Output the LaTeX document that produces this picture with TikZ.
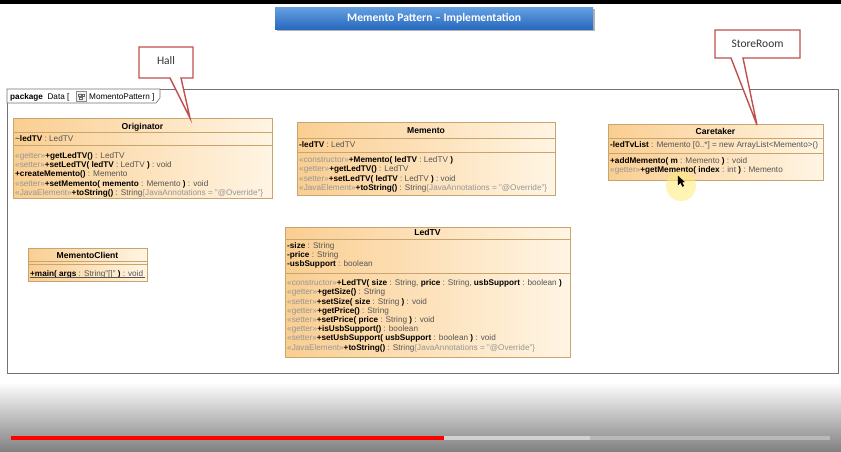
\documentclass[tikz,border=0pt]{standalone}
\usepackage{fontspec}
\setmainfont{Liberation Sans}
\newfontfamily\calib{Carlito}
\definecolor{bordc}{RGB}{200,165,110}
\definecolor{orL}{RGB}{250,206,145}
\definecolor{orR}{RGB}{255,245,228}
\definecolor{stc}{RGB}{150,150,150}
\definecolor{txc}{RGB}{85,85,85}
\definecolor{callc}{RGB}{192,80,77}
\definecolor{titL}{RGB}{100,160,225}
\definecolor{titD}{RGB}{40,105,190}
\definecolor{hil}{RGB}{255,235,120}
\newcommand\ster[1]{\textcolor{stc}{«#1»}}
\newcommand\nm[1]{\textcolor{black}{\textbf{#1}}}
\newcommand\fs{\fontsize{8.2}{9}\selectfont}
\tikzset{
  classbox/.style={draw=bordc, line width=0.6pt, left color=orL, right color=orR, anchor=north west, inner sep=0pt},
  ln/.style={anchor=base west, inner sep=0pt, font=\fs, text=txc},
  hd/.style={anchor=base, inner sep=0pt, font=\fontsize{8.6}{10}\selectfont\bfseries, text=black},
  sep/.style={draw=bordc, line width=0.5pt},
  callout/.style={draw=callc, line width=1.4pt, fill=white, line join=miter},
}
\begin{document}
\begin{tikzpicture}[x=1pt,y=-1pt]
\useasboundingbox (0,0) rectangle (841,452);
\fill[white] (0,0) rectangle (841,452);
% top black strip
\fill[black] (0,0) rectangle (841,4);
% bottom player gradient
\shade[top color=white, bottom color=black!50] (0,382) rectangle (841,452);
\fill[red] (11,436) rectangle (444,440);
\fill[black!18] (444,436) rectangle (590,440);
\fill[black!28] (590,436) rectangle (830,440);

% title
\fill[black!30] (277,9) rectangle (595,31);
\node[top color=titL, bottom color=titD, minimum width=318pt, minimum height=22pt, anchor=north west, inner sep=0pt, text=white, font=\calib\fontsize{11.6}{13}\selectfont\bfseries] (title) at (275,7) {Memento Pattern – Implementation};

% package frame
\draw[black!55, line width=0.6pt] (7,89) rectangle (838,373);
\draw[black!55, line width=0.6pt, fill=white] (7,89) -- (160,89) -- (160,98) -- (156,103) -- (7,103) -- cycle;
\node[anchor=base west, inner sep=0pt, font=\fontsize{8.2}{9}\selectfont] (pkg) at (10,99.5) {\textbf{package}\ \ Data [};
\node[draw=black!45, fill=black!6, minimum width=10pt, minimum height=10pt, inner sep=0pt, anchor=west] (icon) at (76,96.5) {};
\draw[black!60, line width=0.5pt] (78.5,94) rectangle (81.5,96) (79.5,97.5) rectangle (82.5,99.5) (82.5,94.5) rectangle (84,96.5);
\node[anchor=base west, inner sep=0pt, font=\fontsize{8.2}{9}\selectfont] (pkgname) at (89,99.5) {MomentoPattern ]};

% Originator
\node[classbox, minimum width=259pt, minimum height=80pt] (orig) at (13,118) {};
\draw[sep] (13,132) -- (272,132) (13,145) -- (272,145);
\node[hd] (origh) at (142.5,129) {Originator};
\node[ln] (o1) at (15,141.5) {\textcolor{black}{\textasciitilde}\nm{ledTV} : LedTV};
\node[ln] (o2) at (15,158.5) {\ster{getter}\nm{+getLedTV()} : LedTV};
\node[ln] (o3) at (15,167.7) {\ster{setter}\nm{+setLedTV( ledTV} : LedTV \nm{)} : void};
\node[ln] (o4) at (15,176.9) {\nm{+createMemento()} : Memento};
\node[ln] (o5) at (15,186.1) {\ster{setter}\nm{+setMemento( memento} : Memento \nm{)} : void};
\node[ln] (o6) at (15,195.3) {\ster{JavaElement}\nm{+toString()} : String\textcolor{stc}{\{JavaAnnotations = "@Override"\}}};

% Memento
\node[classbox, minimum width=258pt, minimum height=73pt] (mem) at (297,122) {};
\draw[sep] (297,138) -- (555,138) (297,152) -- (555,152);
\node[hd] (memh) at (426,133) {Memento};
\node[ln] (m1) at (299,147.5) {\nm{-ledTV} : LedTV};
\node[ln] (m2) at (299,162.7) {\ster{constructor}\nm{+Memento( ledTV} : LedTV \nm{)}};
\node[ln] (m3) at (299,171.9) {\ster{getter}\nm{+getLedTV()} : LedTV};
\node[ln] (m4) at (299,181.1) {\ster{setter}\nm{+setLedTV( ledTV} : LedTV \nm{)} : void};
\node[ln] (m5) at (299,190.3) {\ster{JavaElement}\nm{+toString()} : String\textcolor{stc}{\{JavaAnnotations = "@Override"\}}};

% Caretaker
\node[classbox, minimum width=215pt, minimum height=56pt] (care) at (608,124) {};
\draw[sep] (608,138) -- (823,138) (608,153) -- (823,153);
\node[hd] (careh) at (715.5,134) {Caretaker};
\node[ln] (c1) at (610,147.5) {\nm{-ledTvList} : Memento [0..*] = new ArrayList<Memento>()};
\node[ln] (c2) at (610,163) {\nm{+addMemento( m} : Memento \nm{)} : void};
\node[ln] (c3) at (610,172.2) {\ster{getter}\nm{+getMemento( index} : int \nm{)} : Memento};

% MementoClient
\node[classbox, minimum width=119pt, minimum height=33pt] (client) at (28,248) {};
\draw[sep] (28,261) -- (147,261) (28,264.5) -- (147,264.5);
\node[hd] (clienth) at (87.5,258) {MementoClient};
\node[ln] (cl1) at (30,276) {\nm{+main( args} : String"[]" \nm{)} : void};
\draw[txc, line width=0.4pt] (cl1.base west) ++(0,1.3) -- ++(115,0);

% LedTV
\node[classbox, minimum width=285pt, minimum height=130pt] (led) at (285,227) {};
\draw[sep] (285,239) -- (570,239) (285,273) -- (570,273);
\node[hd] (ledh) at (427.5,235.5) {LedTV};
\node[ln] (l1) at (287,248) {\nm{-size} : String};
\node[ln] (l2) at (287,257.2) {\nm{-price} : String};
\node[ln] (l3) at (287,266.4) {\nm{-usbSupport} : boolean};
\node[ln] (l4) at (287,285.7) {\ster{constructor}\nm{+LedTV( size} : String, \nm{price} : String, \nm{usbSupport} : boolean \nm{)}};
\node[ln] (l5) at (287,294.9) {\ster{getter}\nm{+getSize()} : String};
\node[ln] (l6) at (287,304.1) {\ster{setter}\nm{+setSize( size} : String \nm{)} : void};
\node[ln] (l7) at (287,313.3) {\ster{getter}\nm{+getPrice()} : String};
\node[ln] (l8) at (287,322.5) {\ster{setter}\nm{+setPrice( price} : String \nm{)} : void};
\node[ln] (l9) at (287,331.7) {\ster{getter}\nm{+isUsbSupport()} : boolean};
\node[ln] (l10) at (287,340.9) {\ster{setter}\nm{+setUsbSupport( usbSupport} : boolean \nm{)} : void};
\node[ln] (l11) at (287,350.1) {\ster{JavaElement}\nm{+toString()} : String\textcolor{stc}{\{JavaAnnotations = "@Override"\}}};

% callouts
\draw[callout] (139,47) -- (193,47) -- (193,78) -- (181,78) -- (190,118) -- (170,78) -- (139,78) -- cycle;
\node[font=\calib\fontsize{11.5}{13}\selectfont, text=black!80] (hall) at (166,61) {Hall};
\draw[callout] (715,30) -- (800,30) -- (800,58) -- (743,58) -- (757,125) -- (731,58) -- (715,58) -- cycle;
\node[font=\calib\fontsize{11.5}{13}\selectfont, text=black!80] (store) at (757.5,44) {StoreRoom};

% cursor highlight
\fill[hil, opacity=0.55] (681,186) circle (15);
\draw[black, fill=black, line width=0.3pt] (678,176) -- (678,185) -- (680.5,182.5) -- (682.5,186.5) -- (683.8,185.8) -- (681.8,182) -- (684.5,182) -- cycle;
\end{tikzpicture}
\end{document}
